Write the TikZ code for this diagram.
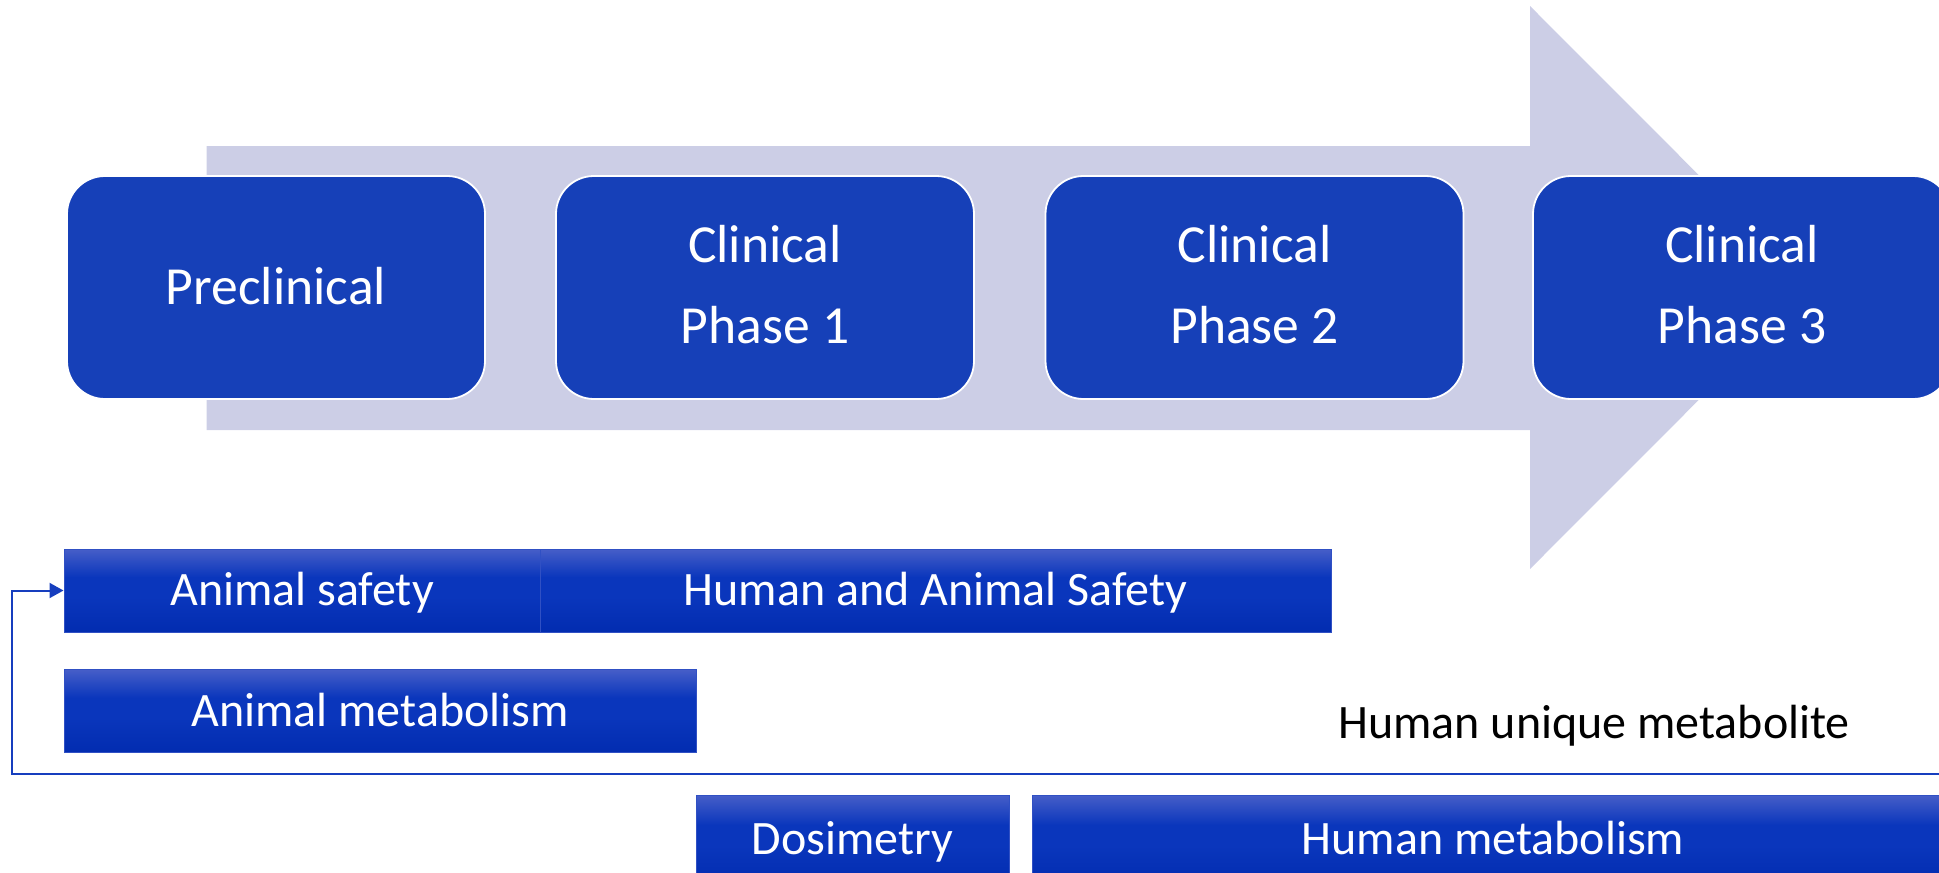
\documentclass[tikz,border=0pt]{standalone}
\usepackage{fontspec}
\setmainfont{Carlito}
\usetikzlibrary{arrows.meta}

\definecolor{arrowgray}{RGB}{204,206,230}
\definecolor{phaseblue}{RGB}{22,64,184}
\definecolor{bartop}{RGB}{70,94,200}
\definecolor{barmid}{RGB}{10,54,188}
\definecolor{barbot}{RGB}{2,44,176}
\definecolor{baredge}{RGB}{48,80,196}
\definecolor{linkblue}{RGB}{22,62,190}

% vertical gradient of the task bars: light at the top, deep blue below
\pgfdeclareverticalshading{bargrad}{100bp}{%
  color(0bp)=(barbot); color(25bp)=(barbot); color(46bp)=(barmid);
  color(58bp)=(barmid); color(75bp)=(bartop); color(100bp)=(bartop)}

\begin{document}
\begin{tikzpicture}[x=0.5pt,y=-0.5pt,
  phasebox/.style={draw=white, line width=0.9pt, fill=phaseblue,
    rounded corners=19pt, minimum width=209pt, minimum height=111.5pt,
    inner sep=0pt, align=center, text=white,
    font=\fontsize{26.8}{40.5}\selectfont},
  oneline/.style={text height=20pt, text depth=3.5pt},
  twoline/.style={text height=59.5pt, text depth=3.8pt},
  taskbar/.style={draw=baredge, line width=0.5pt, shading=bargrad,
    minimum height=41.5pt, inner sep=0pt, text=white,
    text height=17.5pt, text depth=2.5pt,
    font=\fontsize{24}{29}\selectfont},
  link/.style={draw=linkblue, line width=1pt,
    -{Triangle[length=7pt,width=7.5pt]}}]

\useasboundingbox (0,0) rectangle (1939,873);
\clip (0,0) rectangle (1939,873);

% broad background arrow
\fill[arrowgray] (206.5,146) -- (1530,146) -- (1530,6) -- (1811,287.5)
  -- (1530,569) -- (1530,430) -- (206.5,430) -- cycle;

% development phases
\node[phasebox, oneline] (pre) at (276,287.5) {Preclinical};
\node[phasebox, twoline] (ph1) at (765,287.5) {Clinical\\Phase 1};
\node[phasebox, twoline] (ph2) at (1254.5,287.5) {Clinical\\Phase 2};
\node[phasebox, twoline] (ph3) at (1742,287.5) {Clinical\\Phase 3};

% studies along the timeline
\node[taskbar, minimum width=238pt] (safeA) at (302,590.5) {Animal safety};
\node[taskbar, minimum width=395.5pt] (safeHA) at (935.5,590.5) {Human and Animal Safety};
\node[taskbar, minimum width=316pt] (metA) at (380,711) {Animal metabolism};
\node[taskbar, minimum width=156.5pt, minimum height=44pt] (dosi) at (852.5,839) {Dosimetry};
\node[taskbar, minimum width=461pt, minimum height=44pt] (metH) at (1493,839) {Human metabolism};

\node[anchor=base west, inner sep=0pt, font=\fontsize{24}{29}\selectfont]
  (unique) at (1338,738) {Human unique metabolite};

% feedback loop back to animal safety
\coordinate (loopin) at (1950,774);
\coordinate (loopcorner) at (12,774);
\draw[link] (loopin) -- (loopcorner) |- (safeA.west);

\end{tikzpicture}
\end{document}
